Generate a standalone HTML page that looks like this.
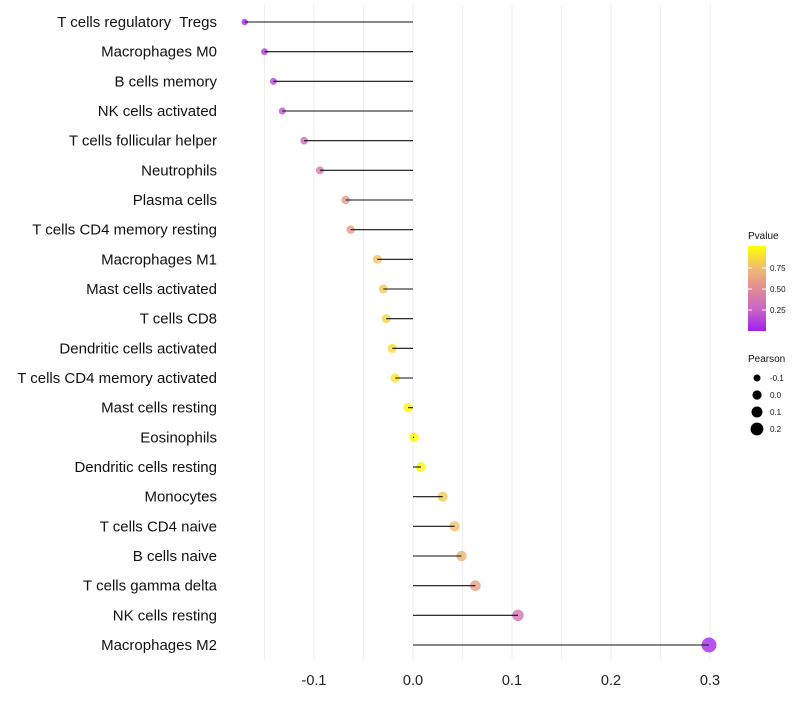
<!DOCTYPE html>
<html><head><meta charset="utf-8"><style>
body{margin:0;background:#fff;font-family:"Liberation Sans",sans-serif}
svg text{font-family:"Liberation Sans",sans-serif}
</style></head><body>
<svg id="c" width="800" height="700"></svg>
<script>
const categories=["T cells regulatory\u00a0 Tregs","Macrophages M0","B cells memory","NK cells activated","T cells follicular helper","Neutrophils","Plasma cells","T cells CD4 memory resting","Macrophages M1","Mast cells activated","T cells CD8","Dendritic cells activated","T cells CD4 memory activated","Mast cells resting","Eosinophils","Dendritic cells resting","Monocytes","T cells CD4 naive","B cells naive","T cells gamma delta","NK cells resting","Macrophages M2"];
const pearson=[-0.170,-0.150,-0.141,-0.132,-0.110,-0.094,-0.068,-0.063,-0.036,-0.030,-0.027,-0.021,-0.018,-0.005,0.001,0.008,0.030,0.042,0.049,0.063,0.106,0.299];
const pvalue=[0.05,0.12,0.15,0.2,0.3,0.38,0.55,0.58,0.78,0.8,0.84,0.87,0.9,0.97,0.99,0.96,0.8,0.75,0.7,0.6,0.35,0.03];
const xTicks=[-0.1,0,0.1,0.2,0.3];
const xTickLabels=["-0.1","0.0","0.1","0.2","0.3"];
const gridVals=[-0.15,-0.1,-0.05,0,0.05,0.1,0.15,0.2,0.25,0.3];
const sizeLegend=[-0.1,0.0,0.1,0.2];
const pLegendTicks=[0.25,0.5,0.75];

const NS="http://www.w3.org/2000/svg";
const svg=document.getElementById('c');
function mk(t,a,p){const e=document.createElementNS(NS,t);for(const k in a)e.setAttribute(k,a[k]);(p||svg).appendChild(e);return e;}
const x=v=>413+v*990;
const y=i=>22+i*(623/21);
const r=v=>Math.max(1.5,4.8+v*9);
function lerp(a,b,t){return a.map((v,i)=>Math.round(v+(b[i]-v)*t));}
const stops=[[160,32,240],[200,100,200],[225,140,150],[240,190,110],[255,255,0]];
function col(p){p=Math.max(0,Math.min(1,p));const s=p*4,i=Math.min(3,Math.floor(s));const c=lerp(stops[i],stops[i+1],s-i);return `rgb(${c})`;}

gridVals.forEach(v=>{const g=mk('line',{x1:x(v),x2:x(v),y1:5,y2:660,stroke:'#efefef','stroke-width':1});
});
xTicks.forEach((v,i)=>{const t=mk('text',{x:x(v),y:685,'text-anchor':'middle','font-size':14.5,fill:'#222'});t.textContent=xTickLabels[i];
});
categories.forEach((c,i)=>{
 const t=mk('text',{x:217,y:y(i)+5,'text-anchor':'end','font-size':15,fill:'#111'});t.textContent=c;
 
 const p=mk('circle',{cx:x(pearson[i]),cy:y(i),r:r(pearson[i]),fill:col(pvalue[i]),'fill-opacity':0.8});
 
 const l=mk('line',{x1:x(0),x2:x(pearson[i]),y1:y(i),y2:y(i),stroke:'#111','stroke-width':1.1});
 
});
const defs=mk('defs',{});const gr=mk('linearGradient',{id:'g',x1:0,y1:1,x2:0,y2:0},defs);
stops.forEach((s,i)=>mk('stop',{offset:i/4,'stop-color':`rgb(${s})`},gr));
const lt=mk('text',{x:748,y:239,'font-size':10,fill:'#111'});lt.textContent='Pvalue';

const bar=mk('rect',{x:748,y:246,width:18,height:85,fill:'url(#g)'});

pLegendTicks.forEach(v=>{const yy=331-v*84;mk('line',{x1:748,x2:752,y1:yy,y2:yy,stroke:'#fff'});mk('line',{x1:762,x2:766,y1:yy,y2:yy,stroke:'#fff'});
const t=mk('text',{x:770,y:yy+3,'font-size':8,fill:'#111'});t.textContent=v.toFixed(2);
});
const st=mk('text',{x:748,y:362,'font-size':10,fill:'#111'});st.textContent='Pearson';

const lr=[3.5,4.6,5.5,6.4];
sizeLegend.forEach((v,i)=>{const yy=378+i*17;const c=mk('circle',{cx:757,cy:yy,r:lr[i],fill:'#000'});

const t=mk('text',{x:770,y:yy+3,'font-size':8,fill:'#111'});t.textContent=v.toFixed(1);
});
</script>
</body></html>
